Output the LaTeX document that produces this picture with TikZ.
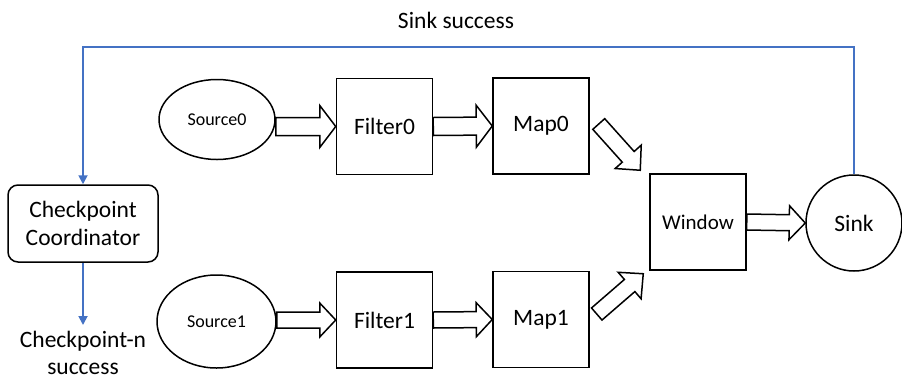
\documentclass[tikz,border=0pt]{standalone}
\usepackage{fontspec}
\setmainfont{Carlito}
\usetikzlibrary{calc,shapes.geometric,arrows.meta}
\definecolor{linkblue}{HTML}{4472C4}

% Hollow block arrow from #1 (tail) to #2 (tip);
% #3 half shaft width, #4 half head width, #5 head length (all in pt)
\newcommand\fatarrow[5]{%
  \draw[fatline] let \p1=($(#2)-(#1)$), \n1={veclen(\x1,\y1)-#5},
      \p2=($(#1)!\n1!(#2)$) in
    ($(#1)!#3pt!90:(#2)$) -- ($(\p2)!#3pt!90:(#2)$) -- ($(\p2)!#4pt!90:(#2)$)
    -- (#2)
    -- ($(\p2)!#4pt!-90:(#2)$) -- ($(\p2)!#3pt!-90:(#2)$) -- ($(#1)!#3pt!-90:(#2)$)
    -- cycle;}

\tikzset{
  bigfont/.style={font=\fontsize{23.5}{27}\selectfont},
  opbox/.style={draw, line width=1.5pt, minimum width=96pt, minimum height=96pt,
    inner sep=0pt, bigfont},
  srcnode/.style={draw, line width=1.5pt, ellipse, inner sep=0pt,
    font=\fontsize{18}{22}\selectfont},
  fatline/.style={draw, line width=1.5pt, fill=white, line join=miter},
  ctrl/.style={draw=linkblue, line width=1.8pt},
  ctrlarrow/.style={ctrl, -{Triangle[length=9pt,width=9pt]}},
}

\begin{document}
\begin{tikzpicture}[x=1pt, y=-1pt]
  \useasboundingbox (0,0) rectangle (902,381);

  % sources
  \node[srcnode, minimum width=116pt, minimum height=80pt] (src0) at (217,119.5) {Source0};
  \node[srcnode, minimum width=119pt, minimum height=93pt] (src1) at (216.5,321.5) {Source1};

  % operators
  \node[opbox] (flt0) at (384.5,126.5) {Filter0};
  \node[opbox] (map0) at (541,126) {Map0};
  \node[opbox] (flt1) at (384.5,320) {Filter1};
  \node[opbox] (map1) at (541,319.5) {Map1};
  \node[opbox, font=\fontsize{21}{25}\selectfont] (win) at (698,222) {Window};
  \node[draw, line width=1.5pt, circle, minimum size=96pt, inner sep=0pt, bigfont]
    (sink) at (854,223) {Sink};

  % checkpoint coordinator
  \node[draw, line width=1.5pt, rounded corners=10pt, minimum width=150pt,
    minimum height=77pt, align=center, font=\fontsize{23.5}{28}\selectfont]
    (ckpt) at (83,223.5) {Checkpoint\\Coordinator};
  \node[align=center, bigfont, inner xsep=0pt, inner ysep=6pt, anchor=north] (cpn)
    at (83,325) {Checkpoint-n\\success};
  \node[bigfont] (sinkok) at (456,20) {Sink success};

  % data flow
  \coordinate (t0) at (src0.east |- flt0.west);
  \coordinate (t1) at (src1.east |- flt1.west);
  \fatarrow{t0}{flt0.west}{9}{21}{16}
  \fatarrow{flt0.east}{map0.west}{9}{21}{16}
  \fatarrow{t1}{flt1.west}{8}{17}{16}
  \fatarrow{flt1.east}{map1.west}{8}{17}{16}
  \coordinate (d0t) at ($(map0.east)+(9,-2)$);
  \coordinate (d0h) at ($(win.north west)+(-9,-3)$);
  \coordinate (d1t) at ($(map1.east)+(7,-5.5)$);
  \coordinate (d1h) at ($(win.south west)+(-6,3)$);
  \fatarrow{d0t}{d0h}{8}{17.5}{18}
  \fatarrow{d1t}{d1h}{8}{17.5}{18}
  \fatarrow{win.east}{sink.west}{8}{17}{16}

  % checkpoint signalling
  \coordinate (topline) at (0,47);
  \draw[ctrlarrow] (sink.north) -- (sink.north |- topline) -| (ckpt.north);
  \draw[ctrlarrow] (ckpt.south) -- (cpn.north);
\end{tikzpicture}
\end{document}
